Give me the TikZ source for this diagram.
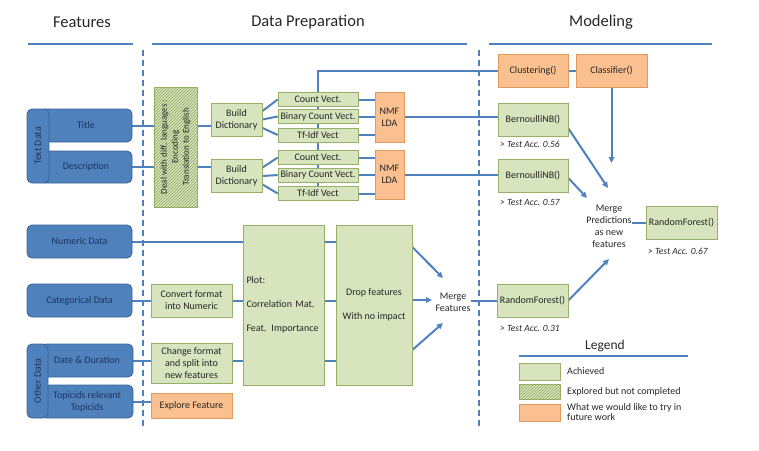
\documentclass[tikz,border=0pt]{standalone}
\usepackage{fontspec}
\setmainfont{Carlito}
\usepackage{tikz}
\usetikzlibrary{arrows.meta,patterns,backgrounds}

\definecolor{featblue}{HTML}{4F81BD}
\definecolor{featedge}{HTML}{3A6496}
\definecolor{feattext}{HTML}{1C355E}
\definecolor{achfill}{HTML}{D7E4BD}
\definecolor{achedge}{HTML}{98AE6B}
\definecolor{futfill}{HTML}{FAC090}
\definecolor{futedge}{HTML}{E39A5D}
\definecolor{hatchline}{HTML}{8FA65A}
\definecolor{linkblue}{HTML}{4F81BD}
\definecolor{inktext}{HTML}{262626}

\begin{document}
\begin{tikzpicture}[x=1pt, y=-1pt, >={Triangle[length=6pt,width=5.5pt]},
  every node/.style={font=\fontsize{10}{12}\selectfont, text=inktext, inner sep=0pt},
  feat/.style={draw=featedge, fill=featblue, rounded corners=5pt, line width=0.8pt, text=feattext, align=center},
  ach/.style={draw=achedge, fill=achfill, line width=0.6pt, align=center},
  fut/.style={draw=futedge, fill=futfill, line width=0.6pt, align=center},
  hatch/.style={ach, postaction={pattern=north east lines, pattern color=hatchline}},
  link/.style={draw=linkblue, line width=2pt},
  secline/.style={draw=linkblue, line width=2.4pt},
  split/.style={draw=linkblue, line width=1.5pt, dash pattern=on 6pt off 4pt},
  sec/.style={font=\fontsize{16.5}{20}\selectfont},
  acc/.style={font=\fontsize{9.5}{11}\selectfont\itshape}]
\useasboundingbox (0,0) rectangle (759,450);

% section titles
\node[sec] (hfeat) at (82,22) {Features};
\node[sec] (hprep) at (308,22) {Data Preparation};
\node[sec] (hmod) at (601,22) {Modeling};

% features
\node[feat, minimum width=92, minimum height=33] (title) at (86,125.5) {Title};
\node[feat, minimum width=92, minimum height=32] (desc) at (86,167) {Description};
\node[feat, rotate=90, minimum width=74, minimum height=22] (textdata) at (38,146) {Text Data};
\node[feat, minimum width=105, minimum height=33] (num) at (79.5,241.5) {Numeric Data};
\node[feat, minimum width=105, minimum height=33] (cat) at (79.5,300.5) {Categorical Data};
\node[feat, minimum width=92, minimum height=33] (date) at (87,360.5) {Date \& Duration};
\node[feat, minimum width=92, minimum height=33] (topic) at (87,401.5) {Topicids relevant\\Topicids};
\node[feat, rotate=90, minimum width=74, minimum height=21] (other) at (37.5,381) {Other Data};

% text preparation
\node[hatch, rotate=90, minimum width=120, minimum height=43, font=\fontsize{9}{11}\selectfont] (deal) at (175.5,147)
  {Deal with diff. languages :\\Encoding\\Translation to English};
\node[ach, minimum width=51, minimum height=33] (bd1) at (236.5,119.5) {Build\\Dictionary};
\node[ach, minimum width=51, minimum height=33] (bd2) at (236.5,176) {Build\\Dictionary};
\node[ach, minimum width=80, minimum height=14] (cv1) at (318,99.5) {Count Vect.};
\node[ach, minimum width=80, minimum height=14] (bc1) at (318,116.5) {Binary Count Vect.};
\node[ach, minimum width=80, minimum height=14] (tf1) at (318,135) {Tf-Idf Vect};
\node[ach, minimum width=80, minimum height=14] (cv2) at (318,157.5) {Count Vect.};
\node[ach, minimum width=80, minimum height=14] (bc2) at (318,175) {Binary Count Vect.};
\node[ach, minimum width=80, minimum height=14] (tf2) at (318,193.5) {Tf-Idf Vect};
\node[fut, minimum width=29, minimum height=50] (nmf1) at (389.5,117) {NMF\\LDA};
\node[fut, minimum width=29, minimum height=49] (nmf2) at (389.5,174.5) {NMF\\LDA};

% other preparation
\node[ach, minimum width=81, minimum height=33] (conv) at (191.5,300.5) {Convert format\\into Numeric};
\node[ach, minimum width=81, minimum height=40] (change) at (191.5,363) {Change format\\and split into\\new features};
\node[fut, minimum width=81, minimum height=25] (explore) at (191.5,405.5) {Explore Feature};
\node[ach, minimum width=81, minimum height=160, text width=74, align=left] (plot) at (283.5,305)
  {Plot:\\[12pt]Correlation Mat.\\[12pt]Feat. Importance};
\node[ach, minimum width=76, minimum height=160] (drop) at (374,305) {Drop features\\[12pt]With no impact};
\node[align=center] (mf) at (453,302) {Merge\\Features};

% modeling
\node[fut, minimum width=70, minimum height=33] (clus) at (533,70.5) {Clustering()};
\node[fut, minimum width=71, minimum height=33] (cls) at (611.5,70.5) {Classifier()};
\node[ach, minimum width=70, minimum height=33] (bern1) at (533,119.5) {BernoulliNB()};
\node[acc] (acc1) at (530,144) {> Test Acc. 0.56};
\node[ach, minimum width=70, minimum height=33] (bern2) at (533,175.5) {BernoulliNB()};
\node[acc] (acc2) at (530,202) {> Test Acc. 0.57};
\node[align=center, font=\fontsize{10}{12}\selectfont] (mp) at (609,226) {Merge\\Predictions\\as new\\features};
\node[ach, minimum width=71, minimum height=33] (rftop) at (681.5,222.5) {RandomForest()};
\node[acc] (acc3) at (678,251) {> Test Acc. 0.67};
\node[ach, minimum width=71, minimum height=33] (rflow) at (532.5,300.5) {RandomForest()};
\node[acc] (acc4) at (530,328) {> Test Acc. 0.31};

% legend
\node[font=\fontsize{13.5}{16}\selectfont] (leg) at (605,346) {Legend};
\node[ach, minimum width=41, minimum height=17] (legach) at (539.5,371.5) {};
\node[hatch, minimum width=41, minimum height=15] (leghatch) at (539.5,391.5) {};
\node[fut, minimum width=41, minimum height=17] (legfut) at (539.5,412.5) {};
\node[anchor=west] (legachtxt) at (567,371.5) {Achieved};
\node[anchor=west] (leghatchtxt) at (567,391.5) {Explored but not completed};
\node[anchor=west, align=left, font=\fontsize{10}{10}\selectfont] (legfuttxt) at (567,412.5) {What we would like to try in\\future work};

\coordinate (mptop) at (609,163);
\coordinate (mpin1) at (608,188);
\coordinate (mpin2) at (587,198);
\coordinate (mpin3) at (609,259);
\coordinate (mfin1) at (443,278);
\coordinate (mfin2) at (432,300);
\coordinate (mfin3) at (443,323);

\begin{pgfonlayer}{background}
\draw[secline] (28,44) -- (133,44);
\draw[secline] (152,44) -- (467,44);
\draw[secline] (489,44) -- (712,44);
\draw[secline] (519,356) -- (688,356);
\draw[split] (143,50) -- (143,430);
\draw[split] (479,50) -- (479,430);

\draw[link] (title) -- (title -| bd1.west);
\draw[link] (desc) -- (desc -| bd2.west);
\foreach \bd/\cv/\bc/\tf/\nmf in {bd1/cv1/bc1/tf1/nmf1, bd2/cv2/bc2/tf2/nmf2} {
  \draw[link] (\bd.18) -- (\cv.west);
  \draw[link] (\bd.east) -- (\bc.west);
  \draw[link] (\bd.-18) -- (\tf.west);
  \draw[link] (\cv.east) -- (\cv.east -| \nmf.west);
  \draw[link] (\bc.east) -- (\bc.east -| \nmf.west);
  \draw[link] (\tf.east) -- (\tf.east -| \nmf.west);
}
\draw[link] (tf2.center) -- (tf2 |- clus.west) -- (clus.west);
\draw[link] (nmf1) -- (nmf1 -| bern1.west);
\draw[link] (nmf2) -- (nmf2 -| bern2.west);
\draw[link] (clus.east) -- (cls.west);

\draw[link] (num) -- (num -| plot.west);
\draw[link] (num -| plot.east) -- (num -| drop.west);
\draw[link] (cat) -- (cat -| plot.west);
\draw[link] (cat -| plot.east) -- (cat -| drop.west);
\draw[link] (date) -- (date -| plot.west);
\draw[link] (date -| plot.east) -- (date -| drop.west);
\draw[link] (topic) -- (topic -| explore.west);

\draw[link, ->] ([yshift=58pt]drop.east) -- (mfin1);
\draw[link, ->] ([yshift=5pt]drop.east) -- (mfin2);
\draw[link, ->] ([yshift=-45pt]drop.east) -- (mfin3);
\draw[link] (mf.east |- rflow) -- (rflow.west);

\draw[link, ->] (cls.south) -- (cls.south |- mptop);
\draw[link, ->] (bern1.-14) -- (mpin1);
\draw[link, ->] (bern2.-4) -- (mpin2);
\draw[link, ->] (rflow.east) -- (mpin3);
\draw[link] (mp.east |- rftop) -- (rftop.west);
\end{pgfonlayer}
\end{tikzpicture}
\end{document}
